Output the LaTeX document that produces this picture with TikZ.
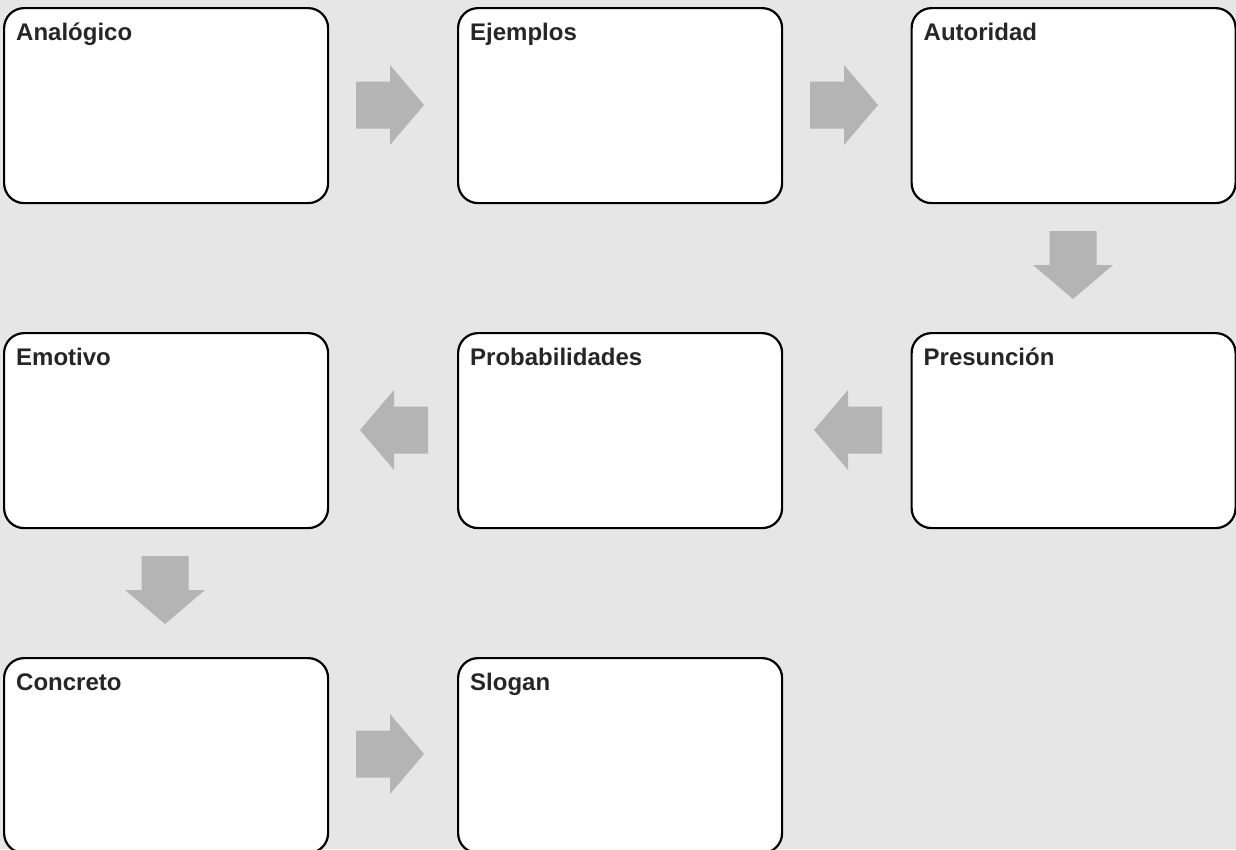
\documentclass[tikz,border=0pt]{standalone}
\usepackage{fontspec}
\setmainfont{Liberation Sans}
\definecolor{bg}{HTML}{E6E6E6}
\definecolor{arrowgray}{HTML}{B4B4B4}
\definecolor{txt}{HTML}{262626}
\begin{document}
\begin{tikzpicture}[x=1pt,y=-1pt,
  box/.style={draw=black,fill=white,line width=2.2pt,rounded corners=20pt,
    minimum width=324pt,minimum height=195pt,inner sep=0pt,anchor=north west},
  boxlabel/.style={anchor=base west,inner sep=0pt,text=txt,
    font=\fontsize{24}{28}\selectfont\bfseries},
  barrow/.pic={\fill[arrowgray] (-34,-23.5) -- (0,-23.5) -- (0,-40) -- (34,0)
     -- (0,40) -- (0,23.5) -- (-34,23.5) -- cycle;}]
\fill[bg] (0,0) rectangle (1236,849);
\useasboundingbox (0,0) rectangle (1236,849);
% boxes
\node[box] (b1) at (3,7) {};
\node[box] (b2) at (457,7) {};
\node[box] (b3) at (910.5,7) {};
\node[box] (b4) at (3,332) {};
\node[box] (b5) at (457,332) {};
\node[box] (b6) at (910.5,332) {};
\node[box] (b7) at (3,657) {};
\node[box] (b8) at (457,657) {};
% labels
\node[boxlabel] (l1) at ([shift={(13pt,-33pt)}]b1.north west) {Analógico};
\node[boxlabel] (l2) at ([shift={(13pt,-33pt)}]b2.north west) {Ejemplos};
\node[boxlabel] (l3) at ([shift={(13pt,-33pt)}]b3.north west) {Autoridad};
\node[boxlabel] (l4) at ([shift={(13pt,-33pt)}]b4.north west) {Emotivo};
\node[boxlabel] (l5) at ([shift={(13pt,-33pt)}]b5.north west) {Probabilidades};
\node[boxlabel] (l6) at ([shift={(13pt,-33pt)}]b6.north west) {Presunción};
\node[boxlabel] (l7) at ([shift={(13pt,-33pt)}]b7.north west) {Concreto};
\node[boxlabel] (l8) at ([shift={(13pt,-33pt)}]b8.north west) {Slogan};
% block arrows
\pic at (390,105) {barrow};
\pic at (844,105) {barrow};
\pic[rotate=-90] at (1073,265) {barrow};
\pic[rotate=180] at (848,430) {barrow};
\pic[rotate=180] at (394,430) {barrow};
\pic[rotate=-90] at (165,590) {barrow};
\pic at (390,754) {barrow};
\end{tikzpicture}
\end{document}
